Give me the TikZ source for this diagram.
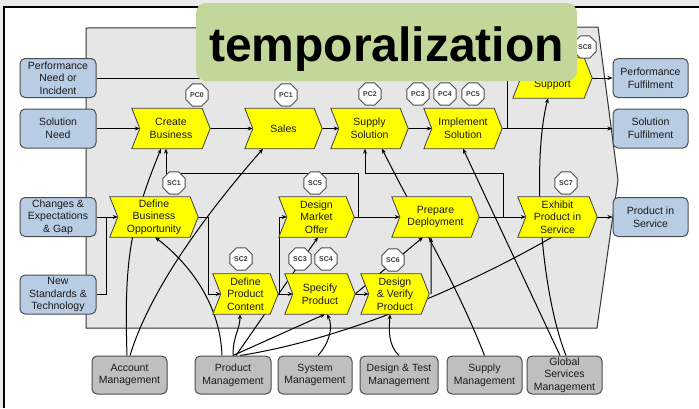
\documentclass[tikz,border=0pt]{standalone}
\usepackage{fontspec}
\setmainfont{Liberation Sans}
\usetikzlibrary{shapes.geometric,arrows.meta}

\definecolor{bgout}{HTML}{EBEBEB}
\definecolor{areafill}{HTML}{E6E6E6}
\definecolor{arealine}{HTML}{333333}
\definecolor{bluefill}{HTML}{B8CCE4}
\definecolor{greyfill}{HTML}{BFBFBF}
\definecolor{boxline}{HTML}{4D4D4D}
\definecolor{chevyellow}{HTML}{FFFF00}
\definecolor{chevline}{HTML}{404040}
\definecolor{titlefill}{HTML}{C4D79B}
\definecolor{txtc}{HTML}{1A1A1A}

\pgfdeclarelayer{bg}
\pgfdeclarelayer{lines}
\pgfdeclarelayer{shapes}
\pgfsetlayers{bg,lines,shapes,main}

\tikzset{
  txt/.style={font=\fontsize{10.5}{12.6}\selectfont, text=txtc, align=center, inner sep=0pt},
  bluebox/.style={txt, rounded corners=5pt, draw=boxline, fill=bluefill, line width=1pt,
    minimum width=76pt, minimum height=39pt},
  greybox/.style={txt, rounded corners=5pt, draw=boxline, fill=greyfill, line width=1pt,
    minimum width=75pt, minimum height=38pt},
  chevtext/.style={txt, minimum height=40pt},
  chevshape/.style={fill=chevyellow, draw=chevline, line width=0.8pt},
  oct/.style={regular polygon, regular polygon sides=8, minimum size=24pt, inner sep=0pt,
    draw=boxline, fill=white, line width=0.9pt, font=\fontsize{7}{8}\selectfont\bfseries,
    text=txtc!85!white},
  ln/.style={line width=1pt, draw=black},
  arr/.style={ln, -{Stealth[length=5pt,width=4pt]}},
  titlebox/.style={fill=titlefill, rounded corners=10pt, inner sep=0pt,
    font=\fontsize{48}{50}\selectfont\bfseries, text=black,
    text height=38pt, text depth=0pt},
}

% chevron: name, x, y, width, text
\newcommand{\chevronnode}[5]{%
  \node[chevtext, minimum width=#4pt] (#1) at (#2,#3) {#5};
  \begin{pgfonlayer}{shapes}
    \draw[chevshape] (#1.north west) -- ([xshift=-8pt]#1.north east) -- (#1.east)
      -- ([xshift=-8pt]#1.south east) -- (#1.south west) -- ([xshift=8pt]#1.west) -- cycle;
  \end{pgfonlayer}}

\begin{document}
\begin{tikzpicture}[x=1pt,y=-1pt]
\useasboundingbox (0,0) rectangle (699,408);

% page and process area
\begin{pgfonlayer}{bg}
  \fill[bgout] (0,0) rectangle (699,408);
  \fill[white] (4,7) rectangle (699,408);
  \draw[line width=1.2pt, black] (4,408) -- (4,7) -- (699,7);
  \draw[fill=areafill, draw=arealine, line width=1pt]
    (86,28) -- (598,27) -- (618,180) -- (597,328) -- (86,328) -- cycle;
\end{pgfonlayer}

% inputs
\node[bluebox] (pni) at (58,78)    {Performance\\Need or\\Incident};
\node[bluebox] (sn)  at (58,128.5) {Solution\\Need};
\node[bluebox] (ceg) at (58,217)   {Changes \&\\Expectations\\\& Gap};
\node[bluebox] (nst) at (58,294.5) {New\\Standards \&\\Technology};

% outputs
\node[bluebox, minimum width=75pt] (pf)  at (650.5,78)    {Performance\\Fulfilment};
\node[bluebox, minimum width=75pt] (sf)  at (650.5,128.5) {Solution\\Fulfilment};
\node[bluebox, minimum width=75pt] (pis) at (650.5,217)   {Product in\\Service};

% organisations
\node[greybox] (am)   at (129.5,375) {Account\\Management};
\node[greybox, minimum width=76pt] (pm) at (233,375) {Product\\Management};
\node[greybox, minimum width=74pt] (sysm) at (315,375) {System\\Management};
\node[greybox, minimum width=78pt] (dtm) at (399,375) {Design \& Test\\Management};
\node[greybox] (supm) at (484.5,375) {Supply\\Management};
\node[greybox] (gsm)  at (564.5,375) {Global\\Services\\Management};

% processes
\chevronnode{cb}{171}{128.5}{78}{Create\\Business}
\chevronnode{sales}{283.5}{128.5}{77}{Sales}
\chevronnode{ss}{369.5}{128.5}{77}{Supply\\Solution}
\chevronnode{is}{463}{128.5}{78}{Implement\\Solution}
\chevronnode{sup}{552.5}{78}{79}{\strut\\[2pt]\strut Support}
\chevronnode{dbo}{154}{217}{88}{Define\\Business\\Opportunity}
\chevronnode{dmo}{316.5}{217}{75}{Design\\Market\\Offer}
\chevronnode{pd}{435.5}{217}{87}{Prepare\\Deployment}
\chevronnode{eps}{557.5}{217}{79}{Exhibit\\Product in\\Service}
\chevronnode{dpc}{245.5}{294}{65}{Define\\Product\\Content}
\chevronnode{sp}{320}{294}{70}{Specify\\Product}
\chevronnode{dvp}{395}{294}{68}{Design\\\& Verify\\Product}

% checkpoints
\node[oct] (pc0) at (197,95) {PC0};
\node[oct] (pc1) at (286,95) {PC1};
\node[oct] (pc2) at (370,94) {PC2};
\node[oct] (pc3) at (418,94) {PC3};
\node[oct] (pc4) at (445,94) {PC4};
\node[oct] (pc5) at (473,94) {PC5};
\node[oct] (sc1) at (174,183) {SC1};
\node[oct] (sc5) at (315,183) {SC5};
\node[oct] (sc7) at (566,183) {SC7};
\node[oct] (sc2) at (241,259) {SC2};
\node[oct] (sc3) at (300,259) {SC3};
\node[oct] (sc4) at (326,259) {SC4};
\node[oct] (sc6) at (393,260) {SC6};
\node[oct] (sc8) at (585,47) {SC8};

% flows
\begin{pgfonlayer}{lines}
  % main chain
  \draw[arr] (pni.east) -- ([xshift=8pt]sup.west);
  \draw[arr] (sn.east) -- ([xshift=8pt]cb.west);
  \draw[arr] (cb.east) -- ([xshift=8pt]sales.west);
  \draw[arr] (sales.east) -- ([xshift=8pt]ss.west);
  \draw[arr] (ss.east) -- ([xshift=8pt]is.west);
  \draw[arr] (is.east) -- (sf.west);
  \draw[ln] ([xshift=5pt]is.east) |- ([xshift=8pt]sup.west);
  \draw[arr] (sup.east) -- (pf.west);

  % opportunity and offer
  \draw[arr] (ceg.east) -- ([xshift=8pt]dbo.west);
  \draw[ln] (nst.east) -| ([xshift=-3pt]dbo.west);
  \draw[arr] (dbo.east) -- ++(10,0) |- ([xshift=8pt]dpc.west);
  \draw[arr] ([xshift=1pt]dpc.east) |- ([xshift=8pt]dmo.west);
  \draw[arr] (dpc.east) -- ([xshift=8pt]sp.west);
  \draw[arr] (dmo.east) -- ([xshift=8pt]pd.west);
  \draw[arr] ([xshift=4pt]dmo.east) -- ++(0,-44) -| ([xshift=-5pt]cb.south);
  \draw[arr] (pd.east) -- ([xshift=8pt]eps.west);
  \draw[arr] ([xshift=24pt]pd.east) -- ++(0,-44) -| ([xshift=-4.5pt]ss.south);
  \draw[arr] (eps.east) -- (pis.west);
  \draw[arr] (sp.east) -- ([xshift=8pt]dvp.west);
  \draw[arr] (sp.east) -- ([xshift=-12.5pt]pd.south);
  \draw[arr] ([xshift=2pt]dvp.east) -- ([xshift=-4.5pt]pd.south);

  % organisations
  \draw[arr] ([xshift=-2.5pt]am.north) .. controls (124,260) and (130,225) .. ([xshift=-10pt]cb.south);
  \draw[arr] ([xshift=0.5pt]am.north) .. controls (150,290) and (205,215) .. ([xshift=-20.5pt]sales.south);
  \draw[arr] ([xshift=-11pt]pm.north) .. controls (220,300) and (185,260) .. ([xshift=1pt]dbo.south);
  \draw[arr] (pm.north) .. controls (233,335) and (240,330) .. ([xshift=-5.5pt]dpc.south);
  \draw[arr] ([xshift=3pt]pm.north) -- ([xshift=1.5pt]dmo.south);
  \draw[arr] (pm.north) -- ([xshift=5pt]sp.south);
  \draw[ln] ([xshift=7pt]pm.north) .. controls (340,340) and (460,290) .. ([xshift=-5.5pt]eps.south);
  \draw[arr] ([xshift=3pt]sysm.north) .. controls (328,345) and (334,328) .. ([xshift=7pt]sp.south);
  \draw[arr] (dtm.north) .. controls (388,345) and (389,330) .. ([xshift=-5pt]dvp.south);
  \draw[arr] (supm.north) .. controls (455,280) and (415,215) .. ([xshift=12.5pt]ss.south);
  \draw[arr] ([xshift=-4.5pt]gsm.north) -- (is.south);
  \draw[arr] ([xshift=1.5pt]gsm.north) .. controls (540,290) and (532,160) .. ([xshift=-4.5pt]sup.south);
\end{pgfonlayer}

% heading
\node[titlebox, minimum width=381pt, minimum height=78pt] (title) at (386.5,42) {temporalization};
\end{tikzpicture}
\end{document}
